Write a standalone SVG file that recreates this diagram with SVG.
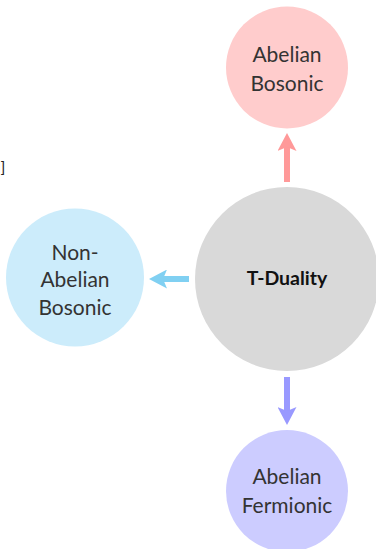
<svg xmlns="http://www.w3.org/2000/svg" width="376" height="549" viewBox="0 0 376 549">
<style>
.lbl{font-family:Lato,"Noto Sans",sans-serif;font-size:21px;fill:#333;text-anchor:middle}
.main{font-family:Lato,"Noto Sans",sans-serif;font-size:19.5px;font-weight:bold;fill:#111;text-anchor:middle}
.note{font-family:"Liberation Sans",sans-serif;font-size:14px;fill:#222}
.arr{stroke-width:6;fill:none}
</style>
<defs>
<marker id="hr" viewBox="0 0 18 19" refX="4" refY="9.5" markerWidth="18" markerHeight="19" markerUnits="userSpaceOnUse" orient="auto"><path d="M0,0 L18,9.5 L0,19 L4,9.5 Z" fill="#ff9999"/></marker>
<marker id="hc" viewBox="0 0 18 19" refX="4" refY="9.5" markerWidth="18" markerHeight="19" markerUnits="userSpaceOnUse" orient="auto"><path d="M0,0 L18,9.5 L0,19 L4,9.5 Z" fill="#80d0f2"/></marker>
<marker id="hb" viewBox="0 0 18 19" refX="4" refY="9.5" markerWidth="18" markerHeight="19" markerUnits="userSpaceOnUse" orient="auto"><path d="M0,0 L18,9.5 L0,19 L4,9.5 Z" fill="#9999ff"/></marker>
</defs>
<rect width="376" height="549" fill="#fff"/>
<text class="note" x="5" y="172" text-anchor="end">]</text>
<g id="connectors">
<line class="arr" x1="287" y1="182" x2="287" y2="147" stroke="#ff9999" marker-end="url(#hr)"/>
<line class="arr" x1="189" y1="279" x2="163" y2="279" stroke="#80d0f2" marker-end="url(#hc)"/>
<line class="arr" x1="287" y1="377" x2="287" y2="411" stroke="#9999ff" marker-end="url(#hb)"/>
</g>
<g id="tduality">
<circle cx="287" cy="279" r="92" fill="#d9d9d9"/>
<text class="main" x="287" y="284.5">T-Duality</text>
</g>
<g id="abelian-bosonic">
<circle cx="287" cy="67.5" r="61" fill="#ffcccc"/>
<text class="lbl" x="287" y="61.7">Abelian</text>
<text class="lbl" x="287" y="90.7">Bosonic</text>
</g>
<g id="nonabelian-bosonic">
<circle cx="75" cy="277.5" r="69" fill="#ccecfb"/>
<text class="lbl" x="75" y="259.8">Non-</text>
<text class="lbl" x="75" y="287.2">Abelian</text>
<text class="lbl" x="75" y="314.7">Bosonic</text>
</g>
<g id="abelian-fermionic">
<circle cx="287" cy="491" r="61" fill="#ccccff"/>
<text class="lbl" x="287" y="484.3">Abelian</text>
<text class="lbl" x="287" y="513.3">Fermionic</text>
</g>
</svg>
